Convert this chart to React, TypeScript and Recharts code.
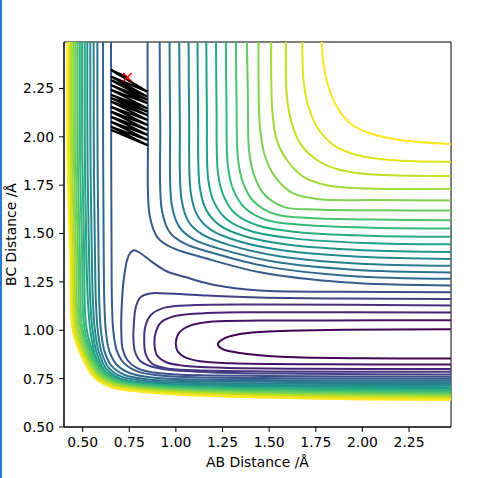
import { ComposedChart, Line, Scatter, XAxis, YAxis, ReferenceArea } from "recharts";

type Pt = [number, number];

const xTicks = [0.5, 0.75, 1.0, 1.25, 1.5, 1.75, 2.0, 2.25];
const yTicks = [0.5, 0.75, 1.0, 1.25, 1.5, 1.75, 2.0, 2.25];

// valley loops, levels 0-5: upper edge -> left tip -> lower edge
const loop0: Pt[] = [[2.475, 1.005], [1.9, 1.003], [1.6, 0.997], [1.45, 0.991], [1.33, 0.978], [1.26, 0.958], [1.225, 0.931], [1.245, 0.905], [1.32, 0.886], [1.45, 0.871], [1.65, 0.86], [2.0, 0.855], [2.475, 0.854]];
const loop1: Pt[] = [[2.475, 1.052], [1.8, 1.051], [1.45, 1.05], [1.2, 1.045], [1.08, 1.025], [1.02, 0.99], [1.0, 0.94], [1.01, 0.89], [1.05, 0.86], [1.13, 0.84], [1.3, 0.829], [1.8, 0.824], [2.475, 0.823]];
const loop2: Pt[] = [[2.475, 1.092], [1.45, 1.093], [1.15, 1.088], [0.99, 1.072], [0.92, 1.04], [0.892, 0.99], [0.885, 0.93], [0.898, 0.872], [0.945, 0.836], [1.04, 0.817], [1.25, 0.806], [1.7, 0.801], [2.475, 0.8]];
const loop3: Pt[] = [[2.475, 1.128], [1.45, 1.133], [1.1, 1.13], [0.94, 1.117], [0.867, 1.08], [0.836, 1.02], [0.83, 0.95], [0.837, 0.88], [0.87, 0.83], [0.94, 0.805], [1.1, 0.793], [1.5, 0.787], [2.475, 0.785]];
const loop4: Pt[] = [[2.475, 1.162], [1.9, 1.164], [1.45, 1.169], [1.15, 1.18], [0.95, 1.19], [0.86, 1.19], [0.81, 1.17], [0.785, 1.12], [0.775, 1.04], [0.772, 0.96], [0.78, 0.89], [0.805, 0.845], [0.86, 0.815], [0.95, 0.797], [1.2, 0.782], [1.7, 0.775], [2.475, 0.772]];
const loop5: Pt[] = [[2.475, 1.197], [1.9, 1.199], [1.45, 1.205], [1.2, 1.235], [1.05, 1.275], [0.95, 1.305], [0.87, 1.355], [0.81, 1.398], [0.777, 1.414], [0.755, 1.4], [0.738, 1.362], [0.72, 1.259], [0.711, 1.155], [0.707, 1.0], [0.715, 0.9], [0.74, 0.845], [0.79, 0.806], [0.87, 0.783], [1.0, 0.772], [1.5, 0.764], [2.475, 0.76]];

// repulsive wall branch of levels 6-21: top edge -> corner -> right edge
const wall6: Pt[] = [[0.652, 2.49], [0.653, 1.9], [0.655, 1.4], [0.657, 1.15], [0.664, 1.0], [0.683, 0.895], [0.722, 0.83], [0.79, 0.789], [0.9, 0.767], [1.1, 0.757], [1.6, 0.752], [2.475, 0.75]];
const wall7: Pt[] = [[0.609, 2.49], [0.61, 1.9], [0.613, 1.4], [0.616, 1.15], [0.624, 1.0], [0.643, 0.892], [0.683, 0.822], [0.752, 0.779], [0.87, 0.756], [1.1, 0.746], [1.6, 0.742], [2.475, 0.74]];
const wall8: Pt[] = [[0.579, 2.49], [0.58, 1.9], [0.585, 1.4], [0.589, 1.15], [0.598, 1.0], [0.618, 0.888], [0.657, 0.813], [0.726, 0.769], [0.85, 0.746], [1.1, 0.737], [1.6, 0.733], [2.475, 0.731]];
const wall9: Pt[] = [[0.559, 2.49], [0.56, 1.9], [0.566, 1.4], [0.571, 1.15], [0.581, 1.0], [0.602, 0.884], [0.641, 0.806], [0.709, 0.76], [0.84, 0.737], [1.1, 0.728], [1.6, 0.724], [2.475, 0.722]];
const wall10: Pt[] = [[0.541, 2.49], [0.542, 1.9], [0.549, 1.4], [0.555, 1.15], [0.566, 1.0], [0.589, 0.88], [0.628, 0.8], [0.697, 0.752], [0.83, 0.729], [1.1, 0.72], [1.6, 0.716], [2.475, 0.714]];
const wall11: Pt[] = [[0.525, 2.49], [0.526, 1.9], [0.534, 1.4], [0.541, 1.15], [0.553, 1.0], [0.577, 0.877], [0.618, 0.794], [0.688, 0.745], [0.825, 0.721], [1.1, 0.712], [1.6, 0.708], [2.475, 0.706]];
const wall12: Pt[] = [[0.511, 2.49], [0.512, 1.9], [0.52, 1.4], [0.528, 1.15], [0.541, 1.0], [0.566, 0.874], [0.608, 0.789], [0.68, 0.738], [0.82, 0.714], [1.1, 0.704], [1.6, 0.7], [2.475, 0.698]];
const wall13: Pt[] = [[0.497, 2.49], [0.498, 1.9], [0.508, 1.4], [0.518, 1.031], [0.548, 0.906], [0.61, 0.797], [0.697, 0.745], [0.857, 0.721], [1.15, 0.707], [1.7, 0.697], [2.475, 0.691]];
const wall14: Pt[] = [[0.485, 2.49], [0.486, 1.9], [0.497, 1.4], [0.507, 1.028], [0.539, 0.903], [0.603, 0.792], [0.69, 0.74], [0.853, 0.716], [1.15, 0.701], [1.7, 0.69], [2.475, 0.684]];
const wall15: Pt[] = [[0.473, 2.49], [0.474, 1.9], [0.485, 1.4], [0.496, 1.024], [0.53, 0.9], [0.595, 0.787], [0.682, 0.735], [0.848, 0.711], [1.15, 0.695], [1.7, 0.683], [2.475, 0.677]];
const wall16: Pt[] = [[0.462, 2.49], [0.463, 1.9], [0.475, 1.4], [0.487, 1.021], [0.522, 0.898], [0.588, 0.783], [0.676, 0.731], [0.844, 0.706], [1.15, 0.69], [1.7, 0.678], [2.475, 0.671]];
const wall17: Pt[] = [[0.452, 2.49], [0.453, 1.9], [0.465, 1.4], [0.478, 1.016], [0.514, 0.894], [0.581, 0.778], [0.67, 0.726], [0.84, 0.701], [1.15, 0.683], [1.7, 0.671], [2.475, 0.664]];
const wall18: Pt[] = [[0.442, 2.49], [0.443, 1.9], [0.456, 1.4], [0.469, 1.013], [0.506, 0.891], [0.575, 0.774], [0.664, 0.722], [0.836, 0.696], [1.15, 0.678], [1.7, 0.665], [2.475, 0.658]];
const wall19: Pt[] = [[0.433, 2.49], [0.434, 1.9], [0.447, 1.4], [0.461, 1.009], [0.499, 0.888], [0.569, 0.769], [0.658, 0.717], [0.833, 0.692], [1.15, 0.673], [1.7, 0.66], [2.475, 0.652]];
const wall20: Pt[] = [[0.425, 2.49], [0.426, 1.9], [0.44, 1.4], [0.453, 1.004], [0.493, 0.884], [0.564, 0.764], [0.653, 0.712], [0.83, 0.686], [1.15, 0.667], [1.7, 0.653], [2.475, 0.645]];
const wall21: Pt[] = [[0.418, 2.49], [0.419, 1.9], [0.433, 1.4], [0.447, 1.0], [0.488, 0.88], [0.559, 0.759], [0.649, 0.707], [0.827, 0.681], [1.15, 0.661], [1.7, 0.647], [2.475, 0.639]];

// upper-right branch of levels 6-21: top edge -> elbow -> right edge
const ridge6: Pt[] = [[0.848, 2.49], [0.85, 2.0], [0.86, 1.59], [0.905, 1.475], [0.988, 1.423], [1.15, 1.375], [1.45, 1.3], [1.9, 1.248], [2.475, 1.231]];
const ridge7: Pt[] = [[0.913, 2.49], [0.916, 2.055], [0.925, 1.62], [0.968, 1.505], [1.048, 1.448], [1.204, 1.398], [1.492, 1.329], [1.932, 1.281], [2.475, 1.266]];
const ridge8: Pt[] = [[0.966, 2.49], [0.969, 2.07], [0.978, 1.648], [1.019, 1.533], [1.096, 1.47], [1.247, 1.418], [1.522, 1.355], [1.951, 1.313], [2.475, 1.299]];
const ridge9: Pt[] = [[1.018, 2.49], [1.021, 2.085], [1.03, 1.678], [1.068, 1.561], [1.143, 1.494], [1.288, 1.44], [1.552, 1.383], [1.97, 1.345], [2.475, 1.333]];
const ridge10: Pt[] = [[1.068, 2.49], [1.071, 2.1], [1.08, 1.709], [1.116, 1.592], [1.188, 1.519], [1.328, 1.463], [1.579, 1.412], [1.987, 1.38], [2.475, 1.369]];
const ridge11: Pt[] = [[1.116, 2.49], [1.119, 2.115], [1.128, 1.74], [1.162, 1.623], [1.231, 1.545], [1.365, 1.487], [1.604, 1.442], [2.002, 1.414], [2.475, 1.405]];
const ridge12: Pt[] = [[1.163, 2.49], [1.166, 2.132], [1.174, 1.774], [1.207, 1.657], [1.272, 1.574], [1.401, 1.513], [1.628, 1.475], [2.015, 1.451], [2.475, 1.444]];
const ridge13: Pt[] = [[1.215, 2.49], [1.218, 2.149], [1.226, 1.808], [1.257, 1.691], [1.319, 1.602], [1.443, 1.54], [1.657, 1.507], [2.034, 1.489], [2.475, 1.483]];
const ridge14: Pt[] = [[1.268, 2.49], [1.271, 2.168], [1.279, 1.847], [1.307, 1.728], [1.367, 1.635], [1.485, 1.57], [1.688, 1.544], [2.054, 1.53], [2.475, 1.526]];
const ridge15: Pt[] = [[1.322, 2.49], [1.325, 2.19], [1.333, 1.885], [1.359, 1.766], [1.416, 1.667], [1.529, 1.601], [1.719, 1.58], [2.074, 1.572], [2.475, 1.569]];
const ridge16: Pt[] = [[1.381, 2.49], [1.386, 2.2], [1.392, 1.93], [1.416, 1.811], [1.47, 1.707], [1.577, 1.638], [1.755, 1.624], [2.1, 1.62], [2.475, 1.619]];
const ridge17: Pt[] = [[1.443, 2.49], [1.452, 2.035], [1.479, 1.897], [1.532, 1.793], [1.63, 1.707], [1.773, 1.677], [2.057, 1.673], [2.475, 1.671]];
const ridge18: Pt[] = [[1.511, 2.49], [1.518, 2.121], [1.541, 1.983], [1.595, 1.88], [1.684, 1.793], [1.809, 1.75], [2.023, 1.733], [2.475, 1.731]];
const ridge19: Pt[] = [[1.59, 2.49], [1.595, 2.207], [1.622, 2.069], [1.666, 1.966], [1.756, 1.88], [1.881, 1.828], [2.059, 1.805], [2.475, 1.798]];
const ridge20: Pt[] = [[1.678, 2.49], [1.684, 2.294], [1.711, 2.155], [1.756, 2.052], [1.845, 1.957], [1.97, 1.906], [2.148, 1.88], [2.475, 1.871]];
const ridge21: Pt[] = [[1.782, 2.49], [1.791, 2.38], [1.818, 2.259], [1.863, 2.155], [1.934, 2.069], [2.041, 2.018], [2.202, 1.983], [2.475, 1.962]];

const loops = [loop0, loop1, loop2, loop3, loop4, loop5];
const walls = [wall6, wall7, wall8, wall9, wall10, wall11, wall12, wall13, wall14, wall15, wall16, wall17, wall18, wall19, wall20, wall21];
const ridges = [ridge6, ridge7, ridge8, ridge9, ridge10, ridge11, ridge12, ridge13, ridge14, ridge15, ridge16, ridge17, ridge18, ridge19, ridge20, ridge21];
const levelCount = 22;

const trajectory: Pt[] = [
  [0.74, 2.308], [0.652, 2.345], [0.848, 2.233], [0.652, 2.311], [0.848, 2.207], [0.652, 2.294], [0.848, 2.19],
  [0.652, 2.268], [0.848, 2.173], [0.652, 2.243], [0.848, 2.147], [0.652, 2.217], [0.848, 2.13], [0.652, 2.2],
  [0.848, 2.112], [0.652, 2.182], [0.848, 2.087], [0.652, 2.155], [0.848, 2.061], [0.652, 2.13], [0.848, 2.035],
  [0.652, 2.104], [0.848, 2.009], [0.652, 2.078], [0.848, 1.983], [0.652, 2.052], [0.848, 1.957], [0.652, 2.035],
];
const startPoint: Pt[] = [[0.74, 2.308]];

const viridis = [
  "#440154", "#471365", "#482475", "#463480", "#414487", "#3b528b", "#355f8d",
  "#2f6c8e", "#2a788e", "#25848e", "#21918c", "#1e9c89", "#22a884", "#2fb47c",
  "#44bf70", "#5ec962", "#7ad151", "#9bd93c", "#bddf26", "#dfe318", "#fde725",
];

function levelColor(level: number) {
  const t = (level / (levelCount - 1)) * (viridis.length - 1);
  const i = Math.min(viridis.length - 2, Math.floor(t));
  const f = t - i;
  const a = viridis[i], b = viridis[i + 1];
  const ch = (s: string, k: number) => parseInt(s.slice(1 + 2 * k, 3 + 2 * k), 16);
  const c = [0, 1, 2].map((k) => Math.round(ch(a, k) + (ch(b, k) - ch(a, k)) * f));
  return `rgb(${c[0]},${c[1]},${c[2]})`;
}

// centripetal catmull-rom, so the hand-read contour points join smoothly
function smoothCurve(context: any) {
  let pts: number[][] = [];
  return {
    areaStart() {},
    areaEnd() {},
    lineStart() {
      pts = [];
    },
    point(x: number, y: number) {
      pts.push([+x, +y]);
    },
    lineEnd() {
      const n = pts.length;
      if (!n) return;
      context.moveTo(pts[0][0], pts[0][1]);
      for (let i = 0; i < n - 1; i++) {
        const p0 = pts[Math.max(0, i - 1)];
        const p1 = pts[i];
        const p2 = pts[i + 1];
        const p3 = pts[Math.min(n - 1, i + 2)];
        const d01 = Math.sqrt(Math.hypot(p1[0] - p0[0], p1[1] - p0[1]));
        const d12 = Math.sqrt(Math.hypot(p2[0] - p1[0], p2[1] - p1[1]));
        const d23 = Math.sqrt(Math.hypot(p3[0] - p2[0], p3[1] - p2[1]));
        let c1x = p1[0], c1y = p1[1], c2x = p2[0], c2y = p2[1];
        if (d01 > 1e-6) {
          const a = 2 * d01 * d01 + 3 * d01 * d12 + d12 * d12;
          const m = 3 * d01 * (d01 + d12);
          c1x = (p1[0] * a - p0[0] * d12 * d12 + p2[0] * d01 * d01) / m;
          c1y = (p1[1] * a - p0[1] * d12 * d12 + p2[1] * d01 * d01) / m;
        }
        if (d23 > 1e-6) {
          const b = 2 * d23 * d23 + 3 * d23 * d12 + d12 * d12;
          const m = 3 * d23 * (d23 + d12);
          c2x = (p2[0] * b + p1[0] * d23 * d23 - p3[0] * d12 * d12) / m;
          c2y = (p2[1] * b + p1[1] * d23 * d23 - p3[1] * d12 * d12) / m;
        }
        context.bezierCurveTo(c1x, c1y, c2x, c2y, p2[0], p2[1]);
      }
    },
  };
}

const toRows = (pts: Pt[]) => pts.map(([x, y]) => ({ x, y }));

const contours: { key: string; level: number; rows: { x: number; y: number }[] }[] = [];
loops.forEach((pts, i) => contours.push({ key: `loop${i}`, level: i, rows: toRows(pts) }));
walls.forEach((pts, i) => {
  contours.push({ key: `wall${i + 6}`, level: i + 6, rows: toRows(pts) });
  contours.push({ key: `ridge${i + 6}`, level: i + 6, rows: toRows(ridges[i]) });
});

const tickStyle = { fill: "#000", fontSize: 13.9 };

function YLabel(props: any) {
  const vb = props.viewBox ?? { x: 0, y: 42, width: 64, height: 385 };
  const cx = vb.x + 10.5;
  const cy = vb.y + vb.height / 2;
  return (
    <text x={cx} y={cy} transform={`rotate(-90 ${cx} ${cy})`} textAnchor="middle" dominantBaseline="central" fontSize={13.9} fill="#000">
      BC Distance /Å
    </text>
  );
}

function RedCross(props: any) {
  const { cx, cy } = props;
  const r = 4.3;
  return (
    <g stroke="#ff0000" strokeWidth={1.5}>
      <line x1={cx - r} y1={cy - r} x2={cx + r} y2={cy + r} />
      <line x1={cx - r} y1={cy + r} x2={cx + r} y2={cy - r} />
    </g>
  );
}

export default function App() {
  return (
    <div style={{ position: "absolute", left: 0, top: 0, width: 488, height: 478, background: "#fff", fontFamily: '"DejaVu Sans", sans-serif' }}>
      <div style={{ position: "absolute", left: 0, top: 0, width: 2, height: 478, background: "#2a7ad2" }} />
      <ComposedChart width={488} height={478} margin={{ top: 42, right: 37, bottom: 0, left: 0 }}>
        <XAxis
          type="number"
          dataKey="x"
          domain={[0.4, 2.475]}
          allowDataOverflow
          ticks={xTicks}
          tickFormatter={(v: number) => v.toFixed(2)}
          height={51}
          tickSize={5}
          tickMargin={5}
          stroke="#000"
          tick={tickStyle}
          label={{ value: "AB Distance /Å", position: "insideBottom", offset: 11, fill: "#000", fontSize: 13.9 }}
        />
        <YAxis
          type="number"
          dataKey="y"
          domain={[0.5, 2.49]}
          allowDataOverflow
          ticks={yTicks}
          tickFormatter={(v: number) => v.toFixed(2)}
          width={64}
          tickSize={5}
          tickMargin={5}
          stroke="#000"
          tick={tickStyle}
          label={{ content: YLabel }}
        />
        {contours.map((c) => (
          <Line
            key={c.key}
            data={c.rows}
            dataKey="y"
            type={smoothCurve as any}
            stroke={levelColor(c.level)}
            strokeWidth={2}
            dot={false}
            activeDot={false}
            isAnimationActive={false}
          />
        ))}
        <Line
          data={toRows(trajectory)}
          dataKey="y"
          type="linear"
          stroke="#000"
          strokeWidth={2.2}
          dot={false}
          activeDot={false}
          isAnimationActive={false}
        />
        <Scatter data={toRows(startPoint)} dataKey="y" shape={RedCross} isAnimationActive={false} />
        <ReferenceArea x1={0.4} x2={2.475} y1={0.5} y2={2.49} fill="none" stroke="#000" strokeWidth={1} ifOverflow="visible" />
      </ComposedChart>
    </div>
  );
}
